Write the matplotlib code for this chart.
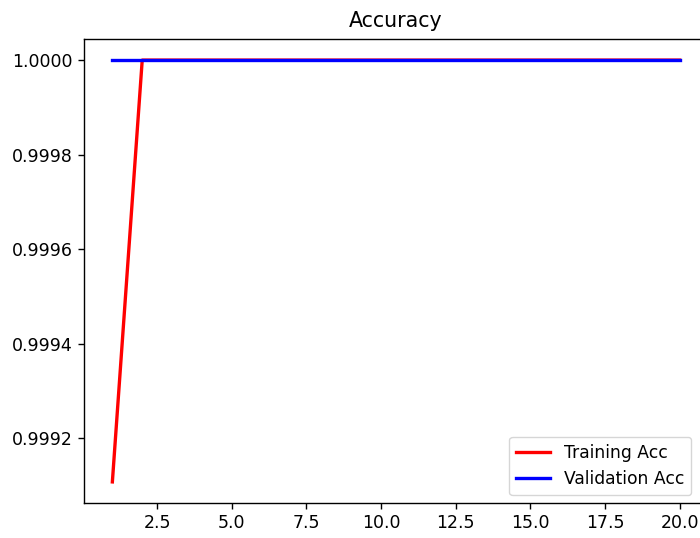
import matplotlib
matplotlib.use("Agg")
import matplotlib.pyplot as plt

epochs = list(range(1, 21))
train_acc = [0.999107] + [1.0] * 19
val_acc = [1.0] * 20

fig = plt.figure(figsize=(7.0, 5.38), dpi=100)
ax = fig.add_axes([84/700, 1 - 503/538, (708 - 84)/700, (503 - 39)/538])
ax.plot(epochs, train_acc, color='red', linewidth=2.4, label='Training Acc')
ax.plot(epochs, val_acc, color='blue', linewidth=2.4, label='Validation Acc')
ax.set_title('Accuracy', fontsize=14.8, pad=8.5)
ax.tick_params(labelsize=12.5, length=4.5, width=1)
for s in ax.spines.values():
    s.set_linewidth(1)
ax.legend(loc='lower right', bbox_to_anchor=(691/700, 1 - 495/538),
          bbox_transform=fig.transFigure, borderaxespad=0, fontsize=12.3)
fig.savefig('out.png', dpi=100)
